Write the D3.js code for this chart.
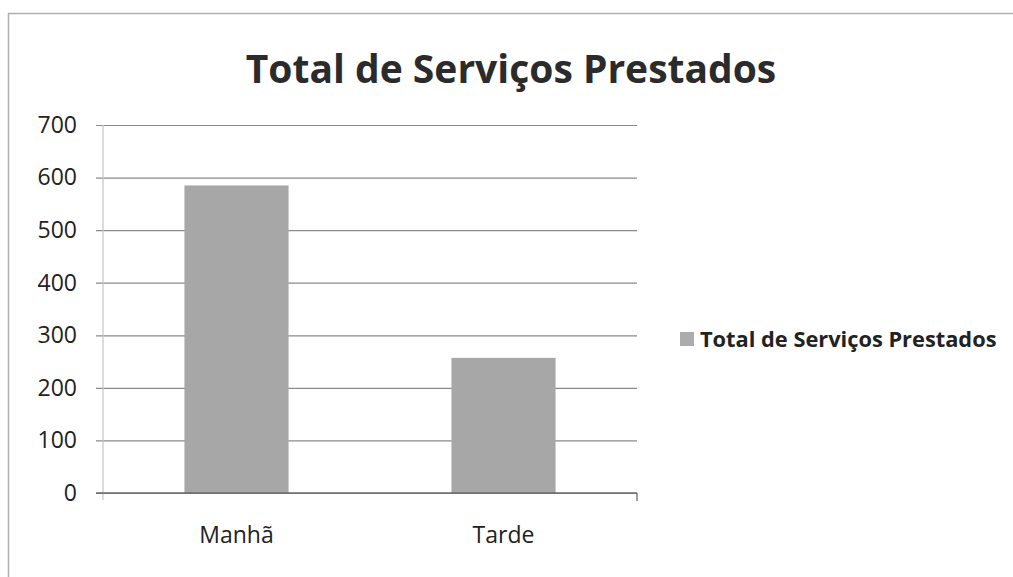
<!DOCTYPE html>
<html>
<head>
<meta charset="utf-8">
<script src="https://cdn.jsdelivr.net/npm/d3@7"></script>
<style>
  body { margin: 0; background: #fff; }
  text { font-family: "Open Sans", sans-serif; }
</style>
</head>
<body>
<script>
var categories = ["Manhã", "Tarde"];
var values = [585, 257];
var yTicks = [0, 100, 200, 300, 400, 500, 600, 700];
var titleText = "Total de Serviços Prestados";
var seriesName = "Total de Serviços Prestados";

var width = 1013, height = 577;
var plotLeft = 103, plotRight = 637, plotTop = 125, plotBottom = 493;

var svg = d3.select("body")
    .append("svg")
    .attr("width", width)
    .attr("height", height);

// frame of the chart area (only left and top edges show in the scan)
svg.append("path")
    .attr("d", "M8.5,577 L8.5,13.5 L1013,13.5")
    .attr("fill", "none")
    .attr("stroke", "#b0b0b0")
    .attr("stroke-width", 1.5);

var x = d3.scaleBand()
    .domain(categories)
    .range([plotLeft, plotRight])
    .paddingInner(0.61)
    .paddingOuter(0.305);

var y = d3.scaleLinear()
    .domain([0, 700])
    .range([plotBottom, plotTop]);

// gridlines + y labels
var yAxis = d3.axisLeft(y)
    .tickValues(yTicks)
    .tickSize(-(plotRight - plotLeft))
    .tickPadding(19);

var gy = svg.append("g")
    .attr("transform", "translate(" + plotLeft + ",0)")
    .call(yAxis);
gy.select(".domain").remove();
gy.selectAll(".tick line")
    .attr("x1", -7)
    .attr("stroke", "#8a8a8a")
    .attr("stroke-width", 1.2);
gy.selectAll(".tick text")
    .attr("x", -26)
    .attr("fill", "#222")
    .style("font-size", "23px");

// vertical axis line
svg.append("line")
    .attr("x1", plotLeft).attr("x2", plotLeft)
    .attr("y1", plotTop).attr("y2", plotBottom + 7)
    .attr("stroke", "#c4c4c4")
    .attr("stroke-width", 1.2);

// bars
svg.selectAll(".bar")
    .data(values)
    .enter()
    .append("rect")
    .attr("class", "bar")
    .attr("x", function(d, i) { return x(categories[i]); })
    .attr("width", x.bandwidth())
    .attr("y", function(d) { return y(d); })
    .attr("height", function(d) { return y(0) - y(d); })
    .attr("fill", "#a7a7a7");

// x axis
var xAxis = d3.axisBottom(x).tickSize(0).tickPadding(34);
var gx = svg.append("g")
    .attr("transform", "translate(0," + plotBottom + ")")
    .call(xAxis);
gx.select(".domain").remove();
gx.selectAll(".tick text")
    .attr("fill", "#222")
    .style("font-size", "23px");

svg.append("line")
    .attr("x1", plotLeft - 7).attr("x2", plotRight)
    .attr("y1", plotBottom).attr("y2", plotBottom)
    .attr("stroke", "#6a6a6a")
    .attr("stroke-width", 1.3);
svg.append("line")
    .attr("x1", plotRight).attr("x2", plotRight)
    .attr("y1", plotBottom).attr("y2", plotBottom + 8)
    .attr("stroke", "#6a6a6a")
    .attr("stroke-width", 1.3);

// title
svg.append("text")
    .attr("x", 511)
    .attr("y", 83)
    .attr("text-anchor", "middle")
    .attr("fill", "#2b2b2b")
    .style("font-size", "39px")
    .style("font-weight", "bold")
    .text(titleText);

// legend
var legend = svg.append("g").attr("transform", "translate(680,332)");
legend.append("rect")
    .attr("width", 14).attr("height", 14)
    .attr("fill", "#acacac");
legend.append("text")
    .attr("x", 20)
    .attr("y", 15)
    .attr("fill", "#222")
    .style("font-size", "21.8px")
    .style("font-weight", "bold")
    .text(seriesName);
</script>
</body>
</html>
